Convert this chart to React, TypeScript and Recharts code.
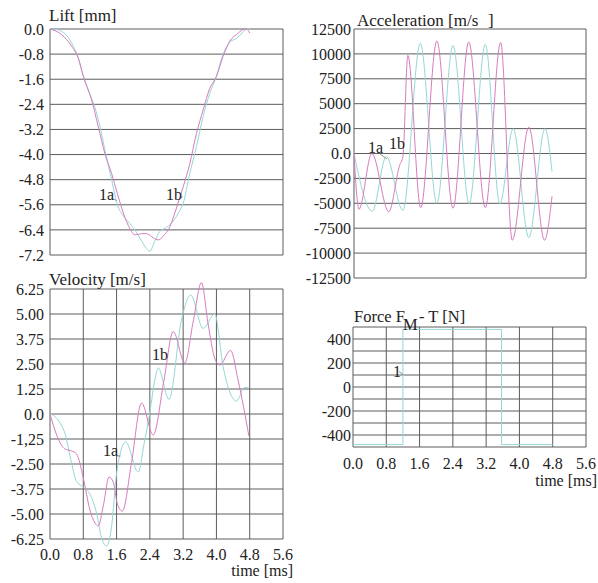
import React from 'react';
import { LineChart, Line, XAxis, YAxis, CartesianGrid } from 'recharts';

// ---------- axis ticks / labels ----------
const timeTicks = [0, 0.8, 1.6, 2.4, 3.2, 4.0, 4.8, 5.6];
const timeLabels = ['0.0', '0.8', '1.6', '2.4', '3.2', '4.0', '4.8', '5.6'];

const liftTicks = [0, -0.8, -1.6, -2.4, -3.2, -4.0, -4.8, -5.6, -6.4, -7.2];
const liftLabels = ['0.0', '-0.8', '-1.6', '-2.4', '-3.2', '-4.0', '-4.8', '-5.6', '-6.4', '-7.2'];

const accTicks = [12500, 10000, 7500, 5000, 2500, 0, -2500, -5000, -7500, -10000, -12500];
const accLabels = ['12500', '10000', '7500', '5000', '2500', '0.0', '-2500', '-5000', '-7500', '-10000', '-12500'];

const velTicks = [6.25, 5, 3.75, 2.5, 1.25, 0, -1.25, -2.5, -3.75, -5, -6.25];
const velLabels = ['6.25', '5.00', '3.75', '2.50', '1.25', '0.0', '-1,25', '-2.50', '-3.75', '-5.00', '-6.25'];

const forceTicks = [500, 400, 300, 200, 100, 0, -100, -200, -300, -400, -500];
const forceLabels = ['', '400', '', '200', '', '0', '', '-200', '', '-400', ''];

// ---------- series (t in ms) ----------
const liftA = [
  { t: 0, v: 0 }, { t: 0.28, v: -0.18 }, { t: 0.52, v: -0.55 }, { t: 0.68, v: -0.93 },
  { t: 0.8, v: -1.5 }, { t: 1.0, v: -2.26 }, { t: 1.16, v: -3.11 }, { t: 1.32, v: -3.97 },
  { t: 1.48, v: -4.6 }, { t: 1.62, v: -5.25 }, { t: 1.8, v: -6.0 }, { t: 1.96, v: -6.45 },
  { t: 2.04, v: -6.56 }, { t: 2.2, v: -6.52 }, { t: 2.32, v: -6.52 }, { t: 2.48, v: -6.65 },
  { t: 2.6, v: -6.72 }, { t: 2.72, v: -6.6 }, { t: 2.88, v: -6.3 }, { t: 3.04, v: -5.7 },
  { t: 3.2, v: -5.03 }, { t: 3.36, v: -4.29 }, { t: 3.52, v: -3.33 }, { t: 3.68, v: -2.58 },
  { t: 3.84, v: -1.89 }, { t: 4.0, v: -1.51 }, { t: 4.16, v: -0.87 }, { t: 4.32, v: -0.39 },
  { t: 4.48, v: -0.18 }, { t: 4.64, v: -0.02 }, { t: 4.72, v: 0.0 }, { t: 4.8, v: -0.13 },
];
const liftB = [
  { t: 0, v: 0 }, { t: 0.16, v: -0.01 }, { t: 0.28, v: -0.08 }, { t: 0.36, v: -0.15 },
  { t: 0.52, v: -0.45 }, { t: 0.68, v: -0.93 }, { t: 0.8, v: -1.5 }, { t: 0.92, v: -1.95 },
  { t: 1.08, v: -2.5 }, { t: 1.2, v: -3.1 }, { t: 1.32, v: -3.86 }, { t: 1.48, v: -4.8 },
  { t: 1.62, v: -5.6 }, { t: 1.76, v: -5.95 }, { t: 1.92, v: -6.2 }, { t: 2.04, v: -6.4 },
  { t: 2.2, v: -6.75 }, { t: 2.32, v: -7.0 }, { t: 2.4, v: -7.08 }, { t: 2.52, v: -6.75 },
  { t: 2.64, v: -6.45 }, { t: 2.8, v: -6.32 }, { t: 2.96, v: -6.12 }, { t: 3.12, v: -5.78 },
  { t: 3.2, v: -5.56 }, { t: 3.36, v: -4.6 }, { t: 3.52, v: -3.75 }, { t: 3.68, v: -2.79 },
  { t: 3.84, v: -2.05 }, { t: 4.0, v: -1.51 }, { t: 4.16, v: -0.8 }, { t: 4.32, v: -0.42 },
  { t: 4.48, v: -0.3 }, { t: 4.64, v: -0.1 }, { t: 4.72, v: 0 }, { t: 4.8, v: 0.02 },
];

const accA = [
  { t: 0, v: 0 }, { t: 0.12, v: -5600 }, { t: 0.43, v: 0 }, { t: 0.84, v: -5850 },
  { t: 1.1, v: -1200 }, { t: 1.18, v: -300 }, { t: 1.3, v: 9850 }, { t: 1.61, v: -5450 },
  { t: 2.0, v: 11300 }, { t: 2.39, v: -5500 }, { t: 2.77, v: 11200 }, { t: 3.17, v: -5450 },
  { t: 3.54, v: 11150 }, { t: 3.82, v: -8700 }, { t: 4.22, v: 2650 }, { t: 4.6, v: -8700 },
  { t: 4.78, v: -4300 },
];
const accB = [
  { t: 0, v: 0 }, { t: 0.44, v: -5800 }, { t: 0.78, v: -300 }, { t: 1.18, v: -5720 },
  { t: 1.6, v: 11050 }, { t: 2.0, v: -5000 }, { t: 2.39, v: 10850 }, { t: 2.78, v: -5050 },
  { t: 3.17, v: 10950 }, { t: 3.52, v: -5050 }, { t: 3.84, v: 2500 }, { t: 4.22, v: -8450 },
  { t: 4.61, v: 2500 }, { t: 4.78, v: -1830 },
];

const velA = [
  { t: 0, v: 0 }, { t: 0.2, v: -1.25 }, { t: 0.36, v: -1.75 }, { t: 0.52, v: -1.85 },
  { t: 0.64, v: -2.0 }, { t: 0.8, v: -3.2 }, { t: 0.96, v: -4.8 }, { t: 1.08, v: -5.45 },
  { t: 1.16, v: -5.6 }, { t: 1.28, v: -4.6 }, { t: 1.42, v: -3.15 }, { t: 1.52, v: -3.4 },
  { t: 1.62, v: -4.5 }, { t: 1.74, v: -4.85 }, { t: 1.96, v: -2.42 }, { t: 2.2, v: 0.55 },
  { t: 2.48, v: -1.05 }, { t: 2.74, v: 1.7 }, { t: 2.96, v: 4.12 }, { t: 3.24, v: 2.55 },
  { t: 3.44, v: 4.6 }, { t: 3.64, v: 6.57 }, { t: 3.8, v: 4.5 }, { t: 3.96, v: 2.78 },
  { t: 4.08, v: 2.45 }, { t: 4.34, v: 3.18 }, { t: 4.52, v: 1.7 }, { t: 4.78, v: -1.1 },
];
const velB = [
  { t: 0, v: 0 }, { t: 0.12, v: -0.13 }, { t: 0.24, v: -0.45 }, { t: 0.36, v: -0.97 },
  { t: 0.52, v: -2.47 }, { t: 0.64, v: -3.38 }, { t: 0.8, v: -3.65 }, { t: 0.96, v: -4.0 },
  { t: 1.12, v: -4.97 }, { t: 1.24, v: -6.2 }, { t: 1.36, v: -6.6 }, { t: 1.48, v: -5.63 },
  { t: 1.6, v: -2.97 }, { t: 1.82, v: -1.4 }, { t: 2.12, v: -2.9 }, { t: 2.26, v: -1.5 },
  { t: 2.4, v: 0.1 }, { t: 2.52, v: 1.7 }, { t: 2.6, v: 2.3 }, { t: 2.86, v: 0.73 },
  { t: 3.16, v: 4.7 }, { t: 3.38, v: 5.95 }, { t: 3.68, v: 4.28 }, { t: 3.96, v: 5.0 },
  { t: 4.16, v: 2.37 }, { t: 4.48, v: 0.65 }, { t: 4.68, v: 1.33 }, { t: 4.78, v: 1.3 },
];

const forceB = [
  { t: 0, v: -480 }, { t: 1.2, v: -480 }, { t: 1.2, v: 480 }, { t: 3.57, v: 480 },
  { t: 3.57, v: -480 }, { t: 4.8, v: -480 },
];

// ---------- styling ----------
const MAG = '#d67cc0';
const CYAN = '#96d6d6';
const GRID = '#5c5c5c';
const FONT = "'Liberation Serif', 'Times New Roman', serif";
const TXT = '#222';

const labeler = (ticks: number[], labels: string[]) => (v: number) => {
  let bi = 0;
  let bd = Infinity;
  ticks.forEach((t, i) => {
    const d = Math.abs(t - v);
    if (d < bd) { bd = d; bi = i; }
  });
  return labels[bi];
};

type Pt = { t: number; v: number };
type Series = { data: Pt[]; color: string; curve: 'monotone' | 'linear' };

function Panel(props: {
  left: number; top: number; width: number; height: number;
  margin: { top: number; right: number; bottom: number; left: number };
  yWidth: number; yMargin: number; yTicks: number[]; yLabels: string[]; yDomain: [number, number];
  showX: boolean; xHeight: number; xMargin: number; series: Series[];
}) {
  const tickStyle = { fontFamily: FONT, fontSize: 16, fill: TXT };
  return (
    <div style={{ position: 'absolute', left: props.left, top: props.top }}>
      <LineChart width={props.width} height={props.height} margin={props.margin}>
        <CartesianGrid stroke={GRID} strokeWidth={1} />
        <XAxis
          type="number" dataKey="t" domain={[0, 5.6]} ticks={timeTicks} interval={0}
          allowDataOverflow axisLine={false} tickLine={false} tickSize={0}
          tickMargin={props.xMargin} height={props.xHeight}
          tick={props.showX ? tickStyle : false}
          tickFormatter={labeler(timeTicks, timeLabels)}
        />
        <YAxis
          type="number" dataKey="v" domain={props.yDomain} ticks={props.yTicks} interval={0}
          allowDataOverflow axisLine={false} tickLine={false} tickSize={0}
          tickMargin={props.yMargin} width={props.yWidth} tick={tickStyle}
          tickFormatter={labeler(props.yTicks, props.yLabels)}
        />
        {props.series.map((s, i) => (
          <Line key={i} data={s.data} dataKey="v" type={s.curve} stroke={s.color}
            strokeWidth={1} dot={false} activeDot={false} isAnimationActive={false} />
        ))}
      </LineChart>
    </div>
  );
}

const T = (p: { x: number; y: number; s?: number; a?: 'start' | 'end'; children: React.ReactNode }) => (
  <text x={p.x} y={p.y} fontFamily={FONT} fontSize={p.s ?? 16} fill={TXT} textAnchor={p.a ?? 'start'}>{p.children}</text>
);

export default function App() {
  return (
    <div style={{ position: 'absolute', left: 0, top: 0, width: 598, height: 583, background: '#fff', overflow: 'hidden' }}>
      <style>{`.recharts-line [clip-path]{clip-path:none !important;}`}</style>
      <Panel left={0} top={0} width={290} height={266}
        margin={{ top: 29, right: 7, bottom: 11, left: 0 }}
        yWidth={50} yMargin={6} yTicks={liftTicks} yLabels={liftLabels} yDomain={[-7.2, 0]}
        showX={false} xHeight={0} xMargin={0}
        series={[{ data: liftB, color: CYAN, curve: 'monotone' }, { data: liftA, color: MAG, curve: 'monotone' }]} />
      <Panel left={290} top={0} width={308} height={292}
        margin={{ top: 29, right: 12, bottom: 14, left: 0 }}
        yWidth={64} yMargin={3} yTicks={accTicks} yLabels={accLabels} yDomain={[-12500, 12500]}
        showX={false} xHeight={0} xMargin={0}
        series={[{ data: accB, color: CYAN, curve: 'monotone' }, { data: accA, color: MAG, curve: 'monotone' }]} />
      <Panel left={0} top={260} width={300} height={323}
        margin={{ top: 29, right: 17, bottom: 14, left: 0 }}
        yWidth={50} yMargin={6} yTicks={velTicks} yLabels={velLabels} yDomain={[-6.25, 6.25]}
        showX={true} xHeight={30} xMargin={10}
        series={[{ data: velB, color: CYAN, curve: 'monotone' }, { data: velA, color: MAG, curve: 'monotone' }]} />
      <Panel left={300} top={290} width={298} height={200}
        margin={{ top: 37, right: 12, bottom: 13, left: 0 }}
        yWidth={53} yMargin={2} yTicks={forceTicks} yLabels={forceLabels} yDomain={[-500, 500]}
        showX={true} xHeight={30} xMargin={11}
        series={[{ data: forceB, color: CYAN, curve: 'linear' }]} />

      <svg width={598} height={583} style={{ position: 'absolute', left: 0, top: 0, pointerEvents: 'none' }}>
        <T x={49} y={21} s={17}>Lift [mm]</T>
        <T x={357} y={26} s={17}>Acceleration [m/s</T>
        <T x={488} y={26} s={17}>]</T>
        <T x={49} y={285} s={17}>Velocity [m/s]</T>
        <T x={354} y={322} s={16.5}>Force F</T>
        <T x={403} y={330} s={16.5}>M</T>
        <T x={419} y={322} s={16.5}>- T [N]</T>

        <T x={293} y={576} a="end">time [ms]</T>
        <T x={597} y={486} a="end">time [ms]</T>

        <T x={99} y={200}>1a</T>
        <line x1={113.5} y1={199} x2={116.5} y2={200.5} stroke="#777" strokeWidth={0.8} />
        <T x={166} y={200}>1b</T>
        <line x1={180} y1={199} x2={182.7} y2={196.5} stroke="#777" strokeWidth={0.8} />

        <T x={368} y={153}>1a</T>
        <line x1={380} y1={154} x2={387} y2={159} stroke="#777" strokeWidth={0.8} />
        <T x={389} y={149}>1b</T>

        <T x={103} y={456}>1a</T>
        <line x1={116.5} y1={456} x2={120.5} y2={456} stroke="#777" strokeWidth={0.8} />
        <T x={152} y={360}>1b</T>
        <line x1={166} y1={359} x2={167.5} y2={356.5} stroke="#777" strokeWidth={0.8} />

        <T x={393} y={377}>1</T>
        <line x1={399} y1={371.5} x2={403} y2={374.5} stroke="#777" strokeWidth={0.8} />
      </svg>
    </div>
  );
}
